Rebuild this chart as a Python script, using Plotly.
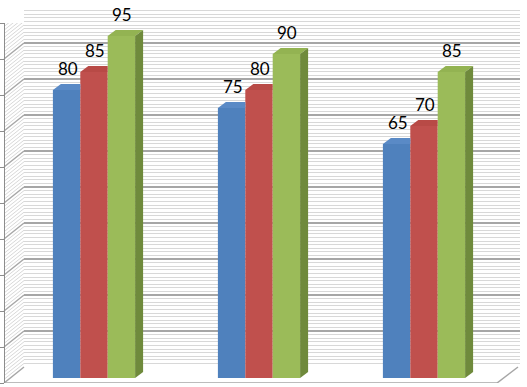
import plotly.graph_objects as go

# ---- data ----
categories = ["Group 1", "Group 2", "Group 3"]
series_names = ["Series 1", "Series 2", "Series 3"]
series1 = [80, 75, 65]
series2 = [85, 80, 70]
series3 = [95, 90, 85]
all_series = [series1, series2, series3]

front_colors = ["#4F81BD", "#C0504D", "#9BBB59"]
top_colors = ["#5A8AC6", "#B84A46", "#93B352"]
side_colors = ["#3A6496", "#933A38", "#6F8A3C"]

W, H = 527, 387

# bar plane geometry (pixels)
grp_center0 = 94.0      # pixel x of first category centre
grp_step = 165.0        # pixels between categories
bar_px = 27.4           # bar width in pixels
y0_pix = 378.0          # pixel y of value 0 for the bars
ppu = 3.6               # pixels per value unit
depth_dx, depth_dy = 8.0, 6.0   # bar depth offset in pixels

x_range = [-grp_center0 / grp_step, (W - grp_center0) / grp_step]
y_range = [-(H - y0_pix) / ppu, y0_pix / ppu]
xu = 1.0 / grp_step          # data units per pixel (x)
yu = 1.0 / ppu               # data units per pixel (y)
bw = bar_px * xu
dx, dy = depth_dx * xu, depth_dy * yu

positions = list(range(len(categories)))

MINOR = "#d8d8d8"
MAJOR = "#a6a6a6"

fig = go.Figure()

# back wall grid subplot (x / y)
fig.add_trace(go.Scatter(x=[0], y=[0], mode="markers", marker=dict(opacity=0),
                         hoverinfo="skip", showlegend=False, xaxis="x", yaxis="y"))
# left axis subplot (x3 / y3)
fig.add_trace(go.Scatter(x=[0], y=[0], mode="markers", marker=dict(opacity=0),
                         hoverinfo="skip", showlegend=False, xaxis="x3", yaxis="y3"))

shapes = []
annotations = []
n = len(all_series)
for k, (name, vals) in enumerate(zip(series_names, all_series)):
    off = (-n / 2 + k) * bw
    fig.add_trace(go.Bar(x=positions, y=vals, name=name, width=bw, offset=off,
                         marker=dict(color=front_colors[k], line=dict(width=0)),
                         xaxis="x2", yaxis="y2", showlegend=False, hoverinfo="skip"))

for k, vals in enumerate(all_series):
    off = (-n / 2 + k) * bw
    for i, v in enumerate(vals):
        xa = positions[i] + off
        xb = xa + bw
        # top face (clipped where the next, taller bar hides it)
        nxt_taller = k < n - 1 and all_series[k + 1][i] >= v
        if nxt_taller:
            path = (f"M{xa},{v} L{xb},{v} L{xb},{v + dy} L{xa + dx},{v + dy} Z")
        else:
            path = (f"M{xa},{v} L{xb},{v} L{xb + dx},{v + dy} L{xa + dx},{v + dy} Z")
        shapes.append(dict(type="path", path=path, xref="x2", yref="y2",
                           fillcolor=top_colors[k], line=dict(width=0), layer="above"))
        if k == n - 1:
            spath = (f"M{xb},{v} L{xb + dx},{v + dy} L{xb + dx},{dy} L{xb},0 Z")
            shapes.append(dict(type="path", path=spath, xref="x2", yref="y2",
                               fillcolor=side_colors[k], line=dict(width=0), layer="above"))
        annotations.append(dict(x=xa + bw / 2, y=v, xref="x2", yref="y2",
                                text=str(v), showarrow=False, yanchor="bottom",
                                yshift=9, xshift=1,
                                font=dict(family="Lato", size=17, color="#000000")))

# side wall slanted grid lines (left wall), through the left axis y3
wall_dy = 16.0 / ppu
for v in range(0, 101):
    major = v % 10 == 0
    shapes.append(dict(type="line", xref="paper", yref="y3",
                       x0=4 / W, x1=24 / W, y0=v, y1=v + wall_dy,
                       line=dict(color=MAJOR if major else MINOR,
                                 width=1.5 if major else 1), layer="below"))

# floor front edge and right edge
shapes.append(dict(type="line", xref="paper", yref="y3", x0=4 / W, x1=497 / W,
                   y0=0, y1=0, line=dict(color=MAJOR, width=1.5), layer="below"))
shapes.append(dict(type="line", xref="paper", yref="y3", x0=497 / W, x1=518 / W,
                   y0=0, y1=wall_dy, line=dict(color=MAJOR, width=1.5), layer="below"))

fig.update_layout(
    width=W, height=H,
    margin=dict(l=0, r=0, t=0, b=0),
    paper_bgcolor="#ffffff",
    plot_bgcolor="rgba(0,0,0,0)",
    barmode="overlay",
    showlegend=False,
    shapes=shapes,
    annotations=annotations,
    xaxis=dict(domain=[24 / W, 520 / W], range=[0, 1], visible=False),
    yaxis=dict(domain=[20 / H, 380 / H], range=[0, 100], dtick=10,
               showgrid=True, gridcolor=MAJOR, gridwidth=1.5,
               minor=dict(dtick=1, showgrid=True, gridcolor=MINOR, gridwidth=1),
               showticklabels=False, ticks="", zeroline=False, showline=False),
    xaxis2=dict(domain=[0, 1], range=x_range, visible=False, anchor="y2"),
    yaxis2=dict(domain=[0, 1], range=y_range, visible=False, anchor="x2"),
    xaxis3=dict(domain=[0, 1], range=[0, 1], visible=False, anchor="y3"),
    yaxis3=dict(domain=[4 / H, 364 / H], range=[0, 100], dtick=10,
                anchor="free", position=4 / W, showline=True, linecolor="#8c8c8c",
                linewidth=1, ticks="outside", ticklen=4, tickcolor="#8c8c8c",
                showticklabels=False, showgrid=False, zeroline=False),
)

fig.write_html("out.html", config={"displayModeBar": False},
               post_script="document.body.style.margin='0px';document.body.style.overflow='hidden';")
